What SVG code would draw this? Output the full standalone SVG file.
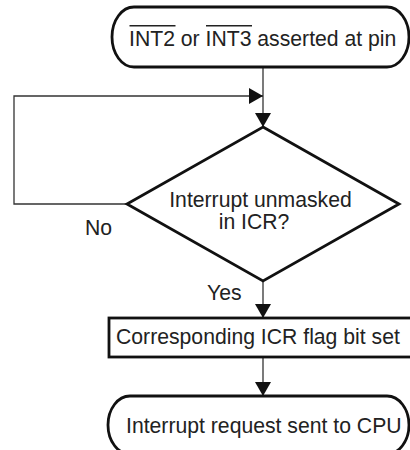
<svg xmlns="http://www.w3.org/2000/svg" width="410" height="450" viewBox="0 0 410 450">
<defs>
<marker id="ah" markerWidth="14" markerHeight="16" refX="14" refY="8" orient="auto" markerUnits="userSpaceOnUse">
<path d="M0,0 L14,8 L0,16 Z" fill="#111"/>
</marker>
</defs>
<style>
.shape{fill:#fff;stroke:#111;stroke-width:2.8}
.conn{fill:none;stroke:#333;stroke-width:1.3}
.bar{stroke:#222;stroke-width:1.6}
text{font-family:"Liberation Sans",Arial,sans-serif;font-size:21.2px;fill:#222}
</style>
<rect width="410" height="450" fill="#fff"/>
<g id="connectors">
<path class="conn" d="M263,67 V127" marker-end="url(#ah)"/>
<path class="conn" d="M127,204 H14 V96 H263" marker-end="url(#ah)"/>
<path class="conn" d="M263,281 V318" marker-end="url(#ah)"/>
<path class="conn" d="M263,357 V396" marker-end="url(#ah)"/>
</g>
<g id="start">
<path class="shape" d="M134,7 H387 A22,30 0 0 1 387,67 H134 A22,30 0 0 1 134,7 Z"/>
<text x="129" y="45.5">INT2 or INT3 asserted at pin</text>
<line class="bar" x1="129.5" y1="25.8" x2="175.5" y2="25.8"/>
<line class="bar" x1="206" y1="25.8" x2="252" y2="25.8"/>
</g>
<g id="decision">
<path class="shape" d="M263,127 L399,204 L263,281 L127,204 Z"/>
<text x="260.5" y="206.5" text-anchor="middle">Interrupt unmasked</text>
<text x="254" y="228.5" text-anchor="middle">in ICR?</text>
</g>
<g id="labels">
<text x="85" y="235">No</text>
<text x="207" y="300">Yes</text>
</g>
<g id="setflag">
<rect class="shape" x="109" y="318" width="303" height="39"/>
<text x="116" y="344">Corresponding ICR flag bit set</text>
</g>
<g id="end">
<path class="shape" d="M130,396 H387 A22,29 0 0 1 387,454 H130 A22,29 0 0 1 130,396 Z"/>
<text x="126" y="433">Interrupt request sent to CPU</text>
</g>
</svg>
